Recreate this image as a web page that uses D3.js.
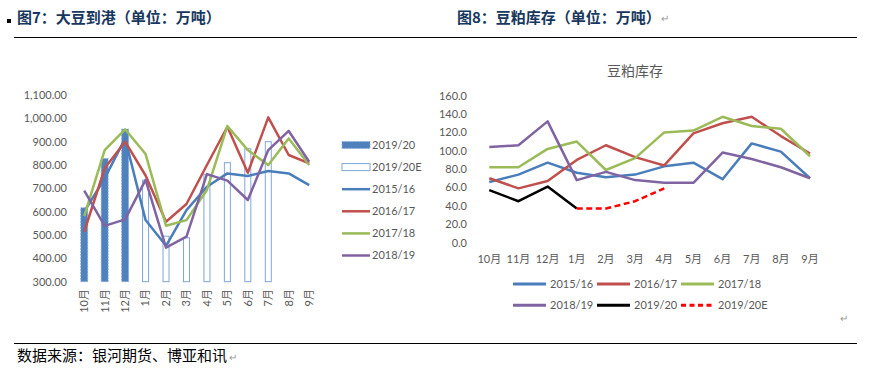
<!DOCTYPE html>
<html>
<head>
<meta charset="utf-8">
<script src="https://cdn.jsdelivr.net/npm/d3@7"></script>
<style>
  body { margin: 0; background: #fff; }
  text { font-family: Lato, "Noto Sans CJK SC", sans-serif; }
  .cjk { font-family: "Noto Sans CJK SC", sans-serif; }
  .tick-label { fill: #595959; font-size: 11px; }
</style>
</head>
<body>
<div id="chart-container"></div>
<script>
// months shared by both charts
var months = ['10月', '11月', '12月', '1月', '2月', '3月', '4月', '5月', '6月', '7月', '8月', '9月']

// chart 7: soybean arrivals (10k t)
var arrivalTicks = [300, 400, 500, 600, 700, 800, 900, 1000, 1100]
var arrival1920 = [617, 828, 954, null, null, null, null, null, null, null, null, null]
var arrival1920E = [null, null, null, 735, 495, 488, 760, 810, 870, 900, null, null]
var arrival1516 = [600, 743, 914, 564, 454, 607, 707, 764, 753, 774, 764, 714]
var arrival1617 = [514, 786, 900, 755, 557, 633, 800, 964, 767, 1004, 843, 807]
var arrival1718 = [581, 864, 953, 847, 540, 564, 693, 967, 864, 800, 914, 800]
var arrival1819 = [690, 539, 567, 736, 446, 493, 761, 733, 650, 864, 946, 814]

// chart 8: soybean meal stocks (10k t)
var stockTicks = [0, 20, 40, 60, 80, 100, 120, 140, 160]
var stock1516 = [66, 74, 87, 76, 71, 74, 83, 87, 69, 108, 99, 70]
var stock1617 = [70, 59, 67, 90, 106, 93, 84, 119, 130, 137, 116, 97]
var stock1718 = [82, 82, 102, 110, 79, 92, 120, 122, 137, 127, 124, 94]
var stock1819 = [104, 106, 132, 68, 77, 68, 65, 65, 98, 91, 82, 70]
var stock1920 = [57, 45, 61, 37, null, null, null, null, null, null, null, null]
var stock1920E = [null, null, null, 37, 37, 45, 59, null, null, null, null, null]

var BLUE = '#4a7ebb', RED = '#c0504d', GREEN = '#9bbb59', PURPLE = '#8064a2'

var svg = d3.select('#chart-container')
  .append('svg')
  .attr('width', 877)
  .attr('height', 372)

/* page furniture: headings, rules, source */
svg.append('rect').attr('x', 7).attr('y', 19).attr('width', 4).attr('height', 4).attr('fill', '#000')
svg.append('text').attr('class', 'cjk')
  .attr('x', 17).attr('y', 23)
  .attr('font-size', 15).attr('font-weight', 'bold').attr('fill', '#17375e')
  .text('图7：大豆到港（单位：万吨）')
svg.append('text').attr('class', 'cjk')
  .attr('x', 457).attr('y', 23)
  .attr('font-size', 15).attr('font-weight', 'bold').attr('fill', '#17375e')
  .text('图8：豆粕库存（单位：万吨）')
svg.append('text').attr('x', 661).attr('y', 22).attr('font-size', 10).attr('fill', '#999').text('↵')

svg.append('line').attr('x1', 14).attr('x2', 857).attr('y1', 37.5).attr('y2', 37.5).attr('stroke', '#000')
svg.append('line').attr('x1', 14).attr('x2', 857).attr('y1', 343.5).attr('y2', 343.5).attr('stroke', '#000')
svg.append('text').attr('x', 840).attr('y', 322).attr('font-size', 10).attr('fill', '#999').text('↵')

svg.append('text').attr('class', 'cjk')
  .attr('x', 17).attr('y', 361)
  .attr('font-size', 15).attr('fill', '#000')
  .text('数据来源：银河期货、博亚和讯')
svg.append('text').attr('x', 229).attr('y', 361).attr('font-size', 10).attr('fill', '#999').text('↵')

// ---------------- CHART 7 ----------------
var x7 = d3.scaleBand().domain(months).range([74, 319.4])
var y7 = d3.scaleLinear().domain([300, 1100]).range([281.7, 95])
var cx7 = function(m) { return x7(m) + x7.bandwidth() / 2 }

var chart7 = svg.append('g').attr('class', 'chart7')

/* y axis labels */
chart7.append('g')
  .attr('transform', 'translate(70, 0)')
  .call(d3.axisLeft(y7).tickValues(arrivalTicks).tickFormat(d3.format(',.2f')).tickSize(0).tickPadding(3))
  .call(function(g) { g.select('.domain').remove() })
  .selectAll('text').attr('class', 'tick-label').attr('font-family', 'Lato')

/* x axis labels, rotated */
chart7.append('g').selectAll('text')
  .data(months)
  .join('text')
    .attr('class', 'tick-label')
    .attr('text-anchor', 'end')
    .attr('dy', '0.35em')
    .attr('transform', function(d) { return 'translate(' + cx7(d) + ',289) rotate(-90)' })
    .text(function(d) { return d })

// bars: actual and estimate
var barData = months.map(function(m, i) { return {m: m, a: arrival1920[i], e: arrival1920E[i]} })
chart7.append('g').selectAll('rect')
  .data(barData.filter(function(d) { return d.a != null }))
  .join('rect')
    .attr('x', function(d) { return cx7(d.m) - 3.5 })
    .attr('width', 7)
    .attr('y', function(d) { return y7(d.a) })
    .attr('height', function(d) { return y7(300) - y7(d.a) })
    .attr('fill', '#4f81bd')
    .attr('stroke', '#8fb0dc')
    .attr('stroke-dasharray', '1.5,1.5')
    .attr('stroke-width', 1)

chart7.append('g').selectAll('rect')
  .data(barData.filter(function(d) { return d.e != null }))
  .join('rect')
    .attr('x', function(d) { return cx7(d.m) - 3 })
    .attr('width', 6)
    .attr('y', function(d) { return y7(d.e) })
    .attr('height', function(d) { return y7(300) - y7(d.e) })
    .attr('fill', '#fff')
    .attr('stroke', '#7ea6da')
    .attr('stroke-width', 1)

// lines
var line7 = d3.line()
  .defined(function(d) { return d.v != null })
  .x(function(d) { return cx7(d.m) })
  .y(function(d) { return y7(d.v) })

var series7 = [
  {name: '2015/16', color: BLUE, values: arrival1516},
  {name: '2016/17', color: RED, values: arrival1617},
  {name: '2017/18', color: GREEN, values: arrival1718},
  {name: '2018/19', color: PURPLE, values: arrival1819}
]
series7.forEach(function(s) {
  chart7.append('path')
    .datum(months.map(function(m, i) { return {m: m, v: s.values[i]} }))
    .attr('fill', 'none')
    .attr('stroke', s.color)
    .attr('stroke-width', 2.5)
    .attr('stroke-linejoin', 'round')
    .attr('d', line7)
})

/* legend */
var legend7 = chart7.append('g')
var legendItems7 = [{name: '2019/20', type: 'bar'}, {name: '2019/20E', type: 'barE'}].concat(series7)
legendItems7.forEach(function(item, i) {
  var ly = 145 + i * 22.1
  if (item.type === 'bar') {
    legend7.append('rect').attr('x', 342).attr('y', ly - 3.5).attr('width', 28).attr('height', 7)
      .attr('fill', '#4f81bd').attr('stroke', '#8fb0dc').attr('stroke-dasharray', '1.5,1.5')
  } else if (item.type === 'barE') {
    legend7.append('rect').attr('x', 342).attr('y', ly - 3.5).attr('width', 28).attr('height', 7)
      .attr('fill', '#fff').attr('stroke', '#7ea6da')
  } else {
    legend7.append('line').attr('x1', 342).attr('x2', 370).attr('y1', ly).attr('y2', ly)
      .attr('stroke', item.color).attr('stroke-width', 2.5)
  }
  legend7.append('text').attr('class', 'tick-label').attr('font-size', 12)
    .attr('x', 372).attr('y', ly).attr('dy', '0.35em').text(item.name)
})

// ---------------- CHART 8 ----------------
var x8 = d3.scaleBand().domain(months).range([474.7, 824.6])
var y8 = d3.scaleLinear().domain([0, 160]).range([242.5, 95.7])
var cx8 = function(m) { return x8(m) + x8.bandwidth() / 2 }

var chart8 = svg.append('g').attr('class', 'chart8')

chart8.append('text').attr('class', 'cjk')
  .attr('x', 635).attr('y', 71).attr('dy', '0.35em')
  .attr('text-anchor', 'middle').attr('font-size', 14).attr('fill', '#595959')
  .text('豆粕库存')

chart8.append('g')
  .attr('transform', 'translate(470, 0)')
  .call(d3.axisLeft(y8).tickValues(stockTicks).tickFormat(d3.format('.1f')).tickSize(0).tickPadding(3))
  .call(function(g) { g.select('.domain').remove() })
  .selectAll('text').attr('class', 'tick-label').attr('font-family', 'Lato')

chart8.append('g').selectAll('text')
  .data(months)
  .join('text')
    .attr('class', 'tick-label')
    .attr('text-anchor', 'middle')
    .attr('x', function(d) { return cx8(d) })
    .attr('y', 259).attr('dy', '0.35em')
    .text(function(d) { return d })

var line8 = d3.line()
  .defined(function(d) { return d.v != null })
  .x(function(d) { return cx8(d.m) })
  .y(function(d) { return y8(d.v) })

var series8 = [
  {name: '2015/16', color: BLUE, values: stock1516},
  {name: '2016/17', color: RED, values: stock1617},
  {name: '2017/18', color: GREEN, values: stock1718},
  {name: '2018/19', color: PURPLE, values: stock1819},
  {name: '2019/20', color: '#000', values: stock1920},
  {name: '2019/20E', color: '#ff0000', values: stock1920E, dash: '6,3.5'}
]
series8.forEach(function(s) {
  chart8.append('path')
    .datum(months.map(function(m, i) { return {m: m, v: s.values[i]} }))
    .attr('fill', 'none')
    .attr('stroke', s.color)
    .attr('stroke-width', 2.5)
    .attr('stroke-linejoin', 'round')
    .attr('stroke-dasharray', s.dash || null)
    .attr('d', line8)
})

/* legend, 3 per row */
var legend8 = chart8.append('g')
series8.forEach(function(s, i) {
  var lx = 513 + (i % 3) * 84
  var ly = 284 + Math.floor(i / 3) * 21.3
  legend8.append('line').attr('x1', lx).attr('x2', lx + 33).attr('y1', ly).attr('y2', ly)
    .attr('stroke', s.color).attr('stroke-width', 3)
    .attr('stroke-dasharray', s.dash ? '5,3.5' : null)
  legend8.append('text').attr('class', 'tick-label').attr('font-size', 12)
    .attr('x', lx + 37).attr('y', ly).attr('dy', '0.35em').text(s.name)
})
</script>
</body>
</html>
